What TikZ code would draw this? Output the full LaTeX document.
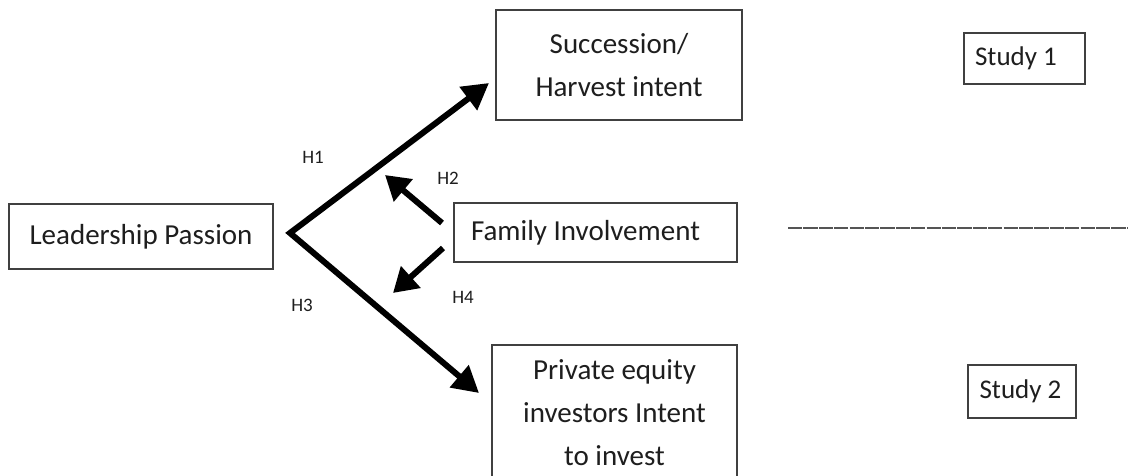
\documentclass[tikz,border=0pt]{standalone}
\usepackage{fontspec}
\setmainfont{Carlito}
\usetikzlibrary{arrows.meta}
\definecolor{boxline}{HTML}{404040}
\definecolor{txt}{HTML}{1E1E1E}
\definecolor{sepline}{HTML}{555555}
\tikzset{
  box/.style={draw=boxline, line width=1.3pt, rectangle, inner sep=0pt, text=txt,
    font=\fontsize{29}{43}\selectfont, align=center},
  bigarrow/.style={line width=6pt, line join=miter, {Triangle[length=26pt,width=28pt]}-{Triangle[length=26pt,width=28pt]}},
  smallarrow/.style={line width=6pt, -{Triangle[length=24pt,width=28pt]}},
  hlabel/.style={font=\fontsize{19}{22}\selectfont, text=txt, inner sep=0pt}
}
\begin{document}
\begin{tikzpicture}[x=1pt,y=-1pt]
\useasboundingbox (0,0) rectangle (1128,476);
\fill[white] (0,0) rectangle (1128,476);
% boxes
\node[box, minimum width=264pt, minimum height=65pt] (lp) at (141,236.5) {Leadership Passion};
\node[box, minimum width=246pt, minimum height=110pt] (si) at (619,65) {Succession/\\Harvest intent};
\node[box, minimum width=283pt, minimum height=59pt] (fi) at (595.5,232.5) {Family Involvement\hspace*{20pt}};
\node[box, minimum width=245pt, minimum height=136pt] (pe) at (614.5,413) {Private equity\\investors Intent\\to invest};
\node[box, minimum width=121pt, minimum height=51pt, font=\fontsize{27}{32}\selectfont] (s1) at (1024.5,58.5) {Study 1\hspace*{17pt}};
\node[box, minimum width=108pt, minimum height=53pt, font=\fontsize{27}{32}\selectfont] (s2) at (1022,391.5) {Study 2\hspace*{3pt}};
% arrow coordinates
\coordinate (j) at (290,233);
\coordinate (h1tip) at (489,83);
\coordinate (h3tip) at (479,393);
\coordinate (h2start) at (442,223);
\coordinate (h2tip) at (385,175);
\coordinate (h4start) at (443,248);
\coordinate (h4tip) at (393,293);
\draw[bigarrow] (h1tip) -- (j) -- (h3tip);
\draw[smallarrow] (h2start) -- (h2tip);
\draw[smallarrow] (h4start) -- (h4tip);
% labels
\node[hlabel] (l1) at (313,157) {H1};
\node[hlabel] (l2) at (448,178) {H2};
\node[hlabel] (l3) at (302,305) {H3};
\node[hlabel] (l4) at (463,297) {H4};
% separator
\coordinate (sepa) at (788,228);
\coordinate (sepb) at (1128,228);
\draw[sepline, line width=1.4pt, dash pattern=on 14.2pt off 1.2pt] (sepa) -- (sepb);
\end{tikzpicture}
\end{document}
